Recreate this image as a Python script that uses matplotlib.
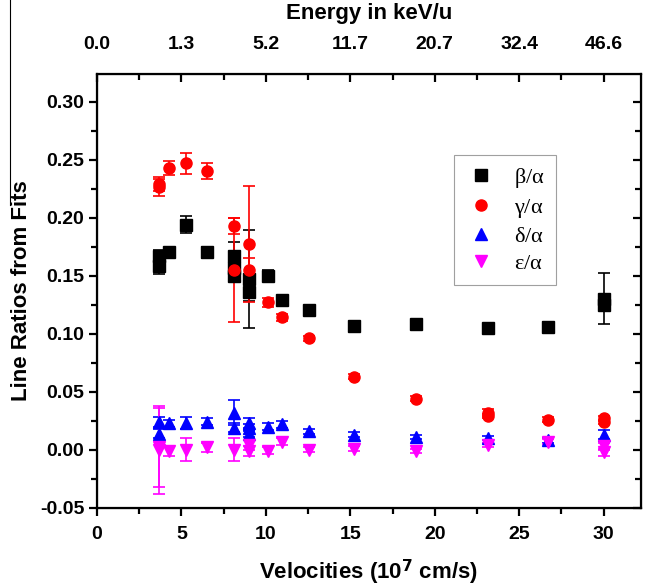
import matplotlib
matplotlib.use('Agg')
import matplotlib.pyplot as plt
from matplotlib.lines import Line2D
from matplotlib.ticker import MultipleLocator

# velocities in 1e7 cm/s
beta_x = [3.69, 3.69, 4.29, 5.26, 6.54, 8.12, 8.12, 8.12, 9.03, 9.03, 10.1, 10.98,
          12.58, 15.23, 18.89, 23.14, 26.7, 30.0, 30.0]
beta_y = [0.158, 0.167, 0.170, 0.194, 0.170, 0.167, 0.157, 0.150, 0.147, 0.136, 0.150, 0.129,
          0.120, 0.107, 0.108, 0.105, 0.106, 0.130, 0.125]
beta_err = [0.007, 0.005, 0.004, 0.007, 0.005, 0.012, 0.006, 0.005, 0.042, 0.008, 0.005, 0.003,
            0.003, 0.003, 0.003, 0.003, 0.004, 0.022, 0.004]

gamma_x = [3.69, 3.69, 4.29, 5.26, 6.54, 8.12, 8.12, 9.03, 9.03, 10.1, 10.98,
           12.58, 15.23, 18.89, 23.14, 23.14, 26.7, 30.0, 30.0]
gamma_y = [0.226, 0.229, 0.243, 0.247, 0.240, 0.193, 0.155, 0.177, 0.155, 0.127, 0.114,
           0.096, 0.063, 0.044, 0.032, 0.029, 0.026, 0.024, 0.027]
gamma_err = [0.007, 0.006, 0.006, 0.009, 0.007, 0.007, 0.045, 0.050, 0.010, 0.004, 0.003,
             0.002, 0.002, 0.002, 0.003, 0.002, 0.002, 0.002, 0.002]

delta_x = [3.69, 3.69, 4.29, 5.26, 6.54, 8.12, 8.12, 9.03, 9.03, 9.03, 10.1, 10.98,
           12.58, 15.23, 18.89, 23.14, 26.7, 30.0]
delta_y = [0.024, 0.014, 0.023, 0.023, 0.024, 0.032, 0.019, 0.023, 0.019, 0.014, 0.020, 0.022,
           0.016, 0.013, 0.011, 0.010, 0.008, 0.013]
delta_err = [0.004, 0.004, 0.003, 0.005, 0.003, 0.011, 0.004, 0.004, 0.003, 0.003, 0.003, 0.003,
             0.002, 0.002, 0.002, 0.002, 0.002, 0.004]

eps_x = [3.69, 3.69, 4.29, 5.26, 6.54, 8.12, 9.03, 9.03, 10.1, 10.98,
         12.58, 15.23, 18.89, 23.14, 26.7, 30.0, 30.0]
eps_y = [0.000, 0.002, -0.001, 0.000, 0.002, 0.000, 0.004, -0.001, -0.001, 0.007,
         0.000, 0.001, -0.001, 0.004, 0.007, 0.003, -0.002]
eps_err = [0.038, 0.034, 0.004, 0.010, 0.004, 0.010, 0.004, 0.004, 0.003, 0.003,
           0.002, 0.002, 0.002, 0.002, 0.002, 0.003, 0.003]

vel_ticks = [0, 5, 10, 15, 20, 25, 30]
energy_labels = ['0.0', '1.3', '5.2', '11.7', '20.7', '32.4', '46.6']

series = [
    (beta_x, beta_y, beta_err, 's', '#000000', r'$\beta/\alpha$'),
    (gamma_x, gamma_y, gamma_err, 'o', '#ff0000', r'$\gamma/\alpha$'),
    (delta_x, delta_y, delta_err, '^', '#0000ff', r'$\delta/\alpha$'),
    (eps_x, eps_y, eps_err, 'v', '#ff00ff', r'$\varepsilon/\alpha$'),
]

plt.rcParams['font.family'] = ['Liberation Sans', 'DejaVu Sans']
plt.rcParams['mathtext.fontset'] = 'custom'
plt.rcParams['mathtext.rm'] = 'Liberation Serif'
plt.rcParams['mathtext.it'] = 'Liberation Serif'

fig = plt.figure(figsize=(6.46, 5.85), dpi=100)
ax = fig.add_axes([0.150, 0.132, 0.842, 0.742])

handles = []
for xs, ys, errs, mk, col, lab in series:
    ax.errorbar(xs, ys, yerr=errs, fmt=mk, color=col, ecolor=col, markersize=8,
                capsize=4, elinewidth=1.2, capthick=1.2)
    handles.append(Line2D([], [], marker=mk, color=col, linestyle='none',
                          markersize=8, label=lab))

ax.set_xlim(0, 32.2)
ax.set_ylim(-0.05, 0.324)
ax.xaxis.set_major_locator(MultipleLocator(5))
ax.xaxis.set_minor_locator(MultipleLocator(2.5))
ax.yaxis.set_major_locator(MultipleLocator(0.05))
ax.yaxis.set_minor_locator(MultipleLocator(0.025))
ax.yaxis.set_major_formatter(plt.FormatStrFormatter('%.2f'))

for s in ax.spines.values():
    s.set_linewidth(1.6)
ax.tick_params(which='both', direction='out', width=1.6, labelsize=14)
ax.tick_params(which='major', length=6)
ax.tick_params(which='minor', length=4)
ax.tick_params(axis='x', which='major', pad=7)
ax.tick_params(axis='y', which='both', right=True, labelright=False, pad=3)
for lbl in ax.get_xticklabels() + ax.get_yticklabels():
    lbl.set_fontweight('bold')

ax.set_xlabel(r'Velocities (10$^{\mathbf{7}}$ cm/s)', fontsize=16, fontweight='bold', labelpad=10)
ax.set_ylabel('Line Ratios from Fits', fontsize=16, fontweight='bold', labelpad=6)

# inward ticks on the right side
for t in ax.yaxis.get_major_ticks() + ax.yaxis.get_minor_ticks():
    t.tick2line.set_marker(matplotlib.lines.TICKLEFT)

top = ax.twiny()
top.set_xlim(ax.get_xlim())
top.set_xticks(vel_ticks)
top.set_xticklabels(energy_labels, fontweight='bold')
top.xaxis.set_minor_locator(MultipleLocator(2.5))
top.tick_params(which='both', direction='in', width=1.6, labelsize=14, pad=15)
top.tick_params(which='major', length=6)
top.tick_params(which='minor', length=4)
top.set_xlabel('Energy in keV/u', fontsize=16, fontweight='bold', labelpad=12)

leg = ax.legend(handles=handles, loc='upper left', bbox_to_anchor=(0.656, 0.813),
                borderaxespad=0,
                prop={'family': 'Liberation Serif', 'size': 16}, frameon=True,
                fancybox=False, edgecolor='#888888', handletextpad=0.7,
                labelspacing=0.3, borderpad=0.5, handlelength=1.5)
leg.get_frame().set_linewidth(0.8)

fig.add_artist(Line2D([10 / 646, 10 / 646], [1.0, 1 - 205 / 585],
                      transform=fig.transFigure, color='black', linewidth=0.8))

fig.savefig('out.png', dpi=100)
